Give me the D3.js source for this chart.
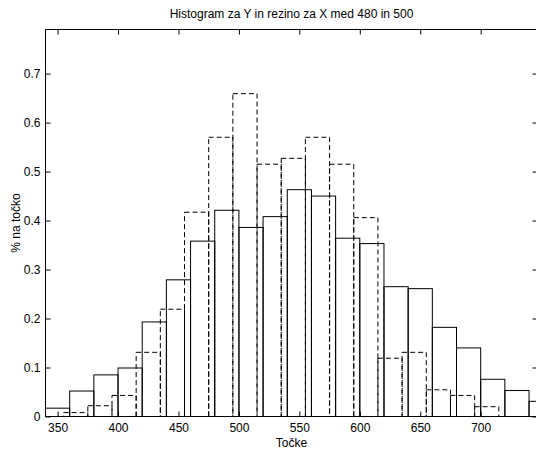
<!DOCTYPE html>
<html>
<head>
<meta charset="utf-8">
<script src="https://cdn.jsdelivr.net/npm/d3@7"></script>
<style>
  html, body { margin: 0; padding: 0; background: #fff; }
  svg { display: block; font-family: "Liberation Sans", Arial, Helvetica, sans-serif; }
</style>
</head>
<body>
<svg id="chart" width="536" height="450"></svg>
<script>
// Histogram of Y over the whole set (solid, bins from 340 in steps of 20)
const solidStart = 340;
const solidValues = [0.017, 0.052, 0.085, 0.099, 0.193, 0.279, 0.358, 0.421, 0.386, 0.408,
                     0.463, 0.450, 0.364, 0.353, 0.265, 0.261, 0.182, 0.140, 0.076, 0.053, 0.031];

// Histogram of Y for the slice 480 <= X <= 500 (dashed, bins from 355 in steps of 20)
const dashedStart = 355;
const dashedValues = [0.008, 0.022, 0.043, 0.131, 0.219, 0.417, 0.570, 0.659, 0.515, 0.527,
                      0.570, 0.515, 0.406, 0.119, 0.131, 0.0545, 0.043, 0.020];

const binWidth = 20;
const xTicks = [350, 400, 450, 500, 550, 600, 650, 700];
const yTicks = [0, 0.1, 0.2, 0.3, 0.4, 0.5, 0.6, 0.7];
const yTickLabels = ["0", "0.1", "0.2", "0.3", "0.4", "0.5", "0.6", "0.7"];

const titleText = "Histogram za Y in rezino za X med 480 in 500";
const xLabelText = "Točke";
const yLabelText = "% na točko";

const plotLeft = 45.5, plotRight = 537.5, plotTop = 29.5, plotBottom = 416.5;

const x = d3.scaleLinear().domain([340, 747]).range([plotLeft, plotRight]);
const y = d3.scaleLinear().domain([0, 0.79]).range([plotBottom, plotTop]);

const svg = d3.select("#chart");

svg.append("defs").append("clipPath").attr("id", "plot-clip")
  .append("rect").attr("x", plotLeft).attr("y", plotTop)
  .attr("width", plotRight - plotLeft).attr("height", plotBottom - plotTop);

const bins = (start, values) => values.map((v, i) => ({ x0: start + i * binWidth, x1: start + (i + 1) * binWidth, v }));

const plot = svg.append("g").attr("clip-path", "url(#plot-clip)");

// Solid outline bars
plot.append("g").selectAll("rect")
  .data(bins(solidStart, solidValues))
  .join("rect")
  .attr("x", d => x(d.x0))
  .attr("width", d => x(d.x1) - x(d.x0))
  .attr("y", d => y(d.v))
  .attr("height", d => y(0) - y(d.v))
  .attr("fill", "none")
  .attr("stroke", "#000")
  .attr("stroke-width", 1);

// Dashed outline bars
plot.append("g").selectAll("rect")
  .data(bins(dashedStart, dashedValues))
  .join("rect")
  .attr("x", d => x(d.x0))
  .attr("width", d => x(d.x1) - x(d.x0))
  .attr("y", d => y(d.v))
  .attr("height", d => y(0) - y(d.v))
  .attr("fill", "none")
  .attr("stroke", "#000")
  .attr("stroke-width", 1)
  .attr("stroke-dasharray", "5,3");

// Axes with inward ticks on all four sides
const styleAxis = g => {
  g.select(".domain").remove();
  g.selectAll(".tick line").attr("stroke", "#000");
  g.selectAll(".tick text").attr("fill", "#000").attr("font-size", 12)
    .attr("font-family", "Liberation Sans, Arial, Helvetica, sans-serif");
};

svg.append("g").attr("transform", `translate(0,${plotBottom})`)
  .call(d3.axisBottom(x).tickValues(xTicks).tickSizeInner(-5).tickSizeOuter(0).tickPadding(7))
  .call(styleAxis);

svg.append("g").attr("transform", `translate(0,${plotTop})`)
  .call(d3.axisTop(x).tickValues(xTicks).tickSizeInner(-5).tickSizeOuter(0).tickFormat(""))
  .call(styleAxis);

svg.append("g").attr("transform", `translate(${plotLeft},0)`)
  .call(d3.axisLeft(y).tickValues(yTicks).tickSizeInner(-5).tickSizeOuter(0).tickPadding(5)
    .tickFormat((d, i) => yTickLabels[i]))
  .call(styleAxis);

svg.append("g").attr("transform", `translate(${plotRight},0)`)
  .call(d3.axisRight(y).tickValues(yTicks).tickSizeInner(-5).tickSizeOuter(0).tickFormat(""))
  .call(styleAxis);

// Axes box
svg.append("rect")
  .attr("x", plotLeft).attr("y", plotTop)
  .attr("width", plotRight - plotLeft).attr("height", plotBottom - plotTop)
  .attr("fill", "none").attr("stroke", "#000").attr("stroke-width", 1);

// Titles
const cx = (plotLeft + plotRight) / 2;
svg.append("text").attr("x", cx).attr("y", 18)
  .attr("text-anchor", "middle").attr("font-size", 12).text(titleText);

svg.append("text").attr("x", cx).attr("y", 446.5)
  .attr("text-anchor", "middle").attr("font-size", 12).text(xLabelText);

svg.append("text")
  .attr("transform", `translate(20,${(plotTop + plotBottom) / 2}) rotate(-90)`)
  .attr("text-anchor", "middle").attr("font-size", 12).text(yLabelText);
</script>
</body>
</html>
